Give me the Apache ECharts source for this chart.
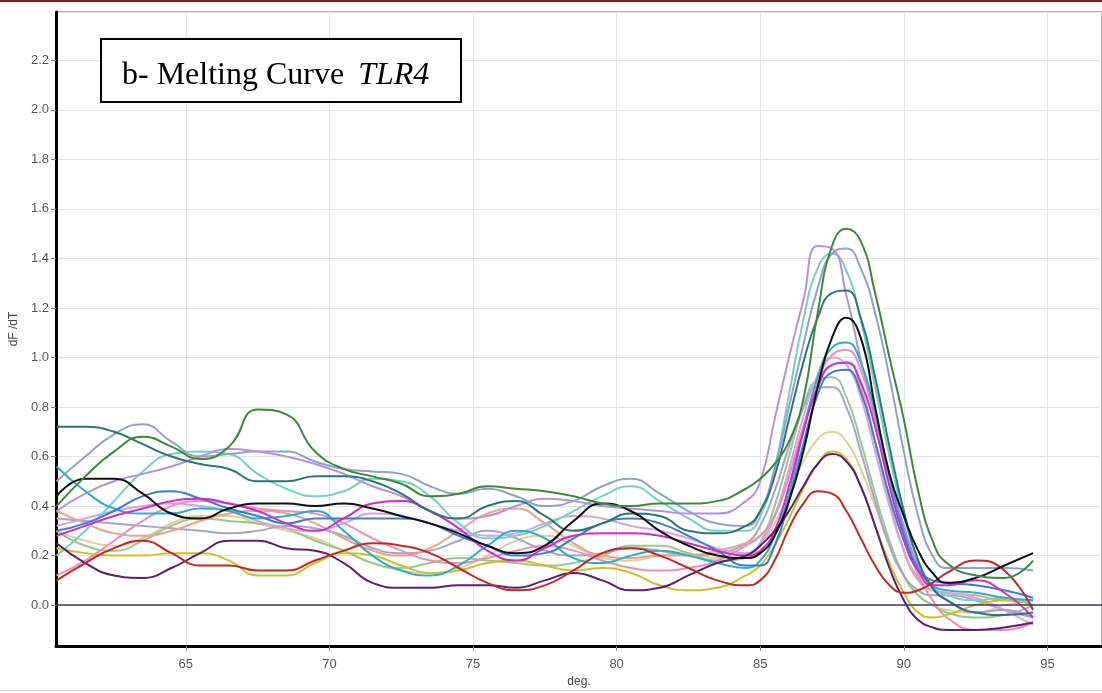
<!DOCTYPE html>
<html><head><meta charset="utf-8">
<script src="https://cdn.jsdelivr.net/npm/echarts@6/dist/echarts.min.js"></script>
<style>html,body{margin:0;padding:0;background:#fff}#c{width:1102px;height:693px}</style>
</head><body><div id="c"></div>
<script>
const temps = [60.5,61.5,62.5,63.5,64.5,65.5,66.5,67.5,68.5,69.5,70.5,71.5,72.5,73.5,74.5,75.5,76.5,77.5,78.5,79.5,80.5,81.5,82.5,83.5,84.5,
  85,85.5,86,86.5,87,87.5,88,88.5,89,89.5,90,90.5,91,91.5,
  92.5,93.5,94.5];

const tan = [0.30,0.26,0.24,0.27,0.33,0.36,0.36,0.33,0.30,0.27,0.22,0.17,0.14,0.13,0.15,0.20,0.26,0.28,0.24,0.19,0.18,0.20,0.21,0.19,0.20,
  0.24,0.33,0.45,0.58,0.67,0.70,0.66,0.55,0.40,0.24,0.12,0.04,0.00,-0.02,
  -0.03,0.00,0.02];
const lightGreen = [0.30,0.24,0.22,0.26,0.32,0.35,0.34,0.33,0.31,0.26,0.22,0.17,0.15,0.17,0.19,0.18,0.17,0.16,0.17,0.20,0.24,0.24,0.21,0.18,0.19,
  0.25,0.40,0.60,0.80,0.91,0.92,0.84,0.66,0.45,0.26,0.12,0.04,0.00,-0.03,
  -0.05,-0.04,0.00];
const grayLavender = [0.35,0.34,0.33,0.32,0.31,0.30,0.29,0.30,0.32,0.31,0.28,0.23,0.21,0.22,0.26,0.30,0.27,0.22,0.20,0.21,0.23,0.22,0.20,0.21,0.25,
  0.32,0.46,0.64,0.80,0.88,0.88,0.80,0.62,0.42,0.24,0.12,0.06,0.04,0.04,
  0.02,-0.02,-0.05];
const salmon = [0.38,0.33,0.29,0.28,0.30,0.34,0.37,0.38,0.37,0.33,0.27,0.22,0.20,0.23,0.30,0.37,0.39,0.33,0.25,0.20,0.19,0.20,0.20,0.22,0.25,
  0.28,0.36,0.52,0.72,0.88,0.97,0.98,0.88,0.66,0.42,0.22,0.10,0.06,0.05,
  0.04,0.02,0.02];
const orchid = [0.32,0.35,0.38,0.40,0.41,0.40,0.38,0.34,0.31,0.30,0.33,0.37,0.36,0.33,0.30,0.28,0.29,0.33,0.36,0.35,0.32,0.30,0.27,0.23,0.21,
  0.25,0.36,0.55,0.76,0.93,1.00,0.97,0.84,0.62,0.40,0.22,0.11,0.06,0.05,
  0.03,-0.02,-0.08];
const pink = [0.12,0.18,0.26,0.34,0.40,0.42,0.41,0.39,0.38,0.37,0.33,0.27,0.22,0.18,0.17,0.19,0.22,0.24,0.22,0.18,0.15,0.14,0.15,0.18,0.24,
  0.28,0.36,0.52,0.72,0.90,1.01,1.03,0.95,0.75,0.50,0.28,0.12,0.02,-0.05,
  -0.10,-0.10,-0.07];
const yellow = [0.23,0.21,0.20,0.20,0.21,0.21,0.18,0.12,0.12,0.17,0.21,0.20,0.16,0.13,0.14,0.17,0.18,0.16,0.14,0.15,0.13,0.08,0.06,0.07,0.12,
  0.16,0.24,0.35,0.47,0.57,0.62,0.59,0.48,0.32,0.17,0.05,-0.03,-0.05,-0.04,
  0.00,0.02,0.00];
const aquamarine = [0.20,0.30,0.42,0.54,0.61,0.62,0.61,0.53,0.47,0.44,0.46,0.51,0.50,0.44,0.33,0.27,0.28,0.32,0.38,0.44,0.48,0.42,0.35,0.30,0.30,
  0.36,0.55,0.85,1.15,1.36,1.42,1.35,1.15,0.88,0.60,0.36,0.18,0.08,0.04,
  0.02,0.03,0.00];
const grayBlue = [0.50,0.60,0.69,0.73,0.66,0.60,0.61,0.62,0.62,0.58,0.55,0.54,0.53,0.48,0.45,0.47,0.44,0.40,0.42,0.48,0.51,0.45,0.38,0.33,0.32,
  0.38,0.55,0.80,1.05,1.28,1.42,1.44,1.36,1.18,0.92,0.62,0.36,0.20,0.15,
  0.15,0.15,0.14];
const lavender = [0.38,0.45,0.50,0.53,0.56,0.60,0.63,0.62,0.60,0.57,0.53,0.48,0.44,0.38,0.35,0.36,0.40,0.43,0.42,0.40,0.39,0.38,0.37,0.37,0.42,
  0.50,0.75,1.00,1.23,1.45,1.44,1.25,0.99,0.76,0.52,0.32,0.16,0.07,0.02,
  -0.03,-0.02,-0.05];
const cyan = [0.56,0.46,0.39,0.37,0.37,0.39,0.38,0.35,0.36,0.38,0.30,0.20,0.14,0.12,0.16,0.24,0.30,0.27,0.19,0.17,0.20,0.22,0.20,0.17,0.15,
  0.18,0.28,0.45,0.70,0.92,1.04,1.06,0.98,0.78,0.52,0.30,0.15,0.08,0.06,
  0.05,0.03,0.02];
const blue = [0.30,0.33,0.38,0.44,0.46,0.43,0.39,0.36,0.33,0.35,0.35,0.35,0.35,0.33,0.28,0.24,0.20,0.21,0.27,0.33,0.35,0.33,0.28,0.22,0.16,
  0.16,0.24,0.42,0.65,0.85,0.94,0.95,0.86,0.66,0.44,0.26,0.14,0.10,0.09,
  0.08,0.06,0.03];
const magenta = [0.28,0.32,0.36,0.39,0.42,0.43,0.41,0.38,0.33,0.30,0.35,0.41,0.42,0.38,0.31,0.22,0.18,0.23,0.28,0.29,0.29,0.28,0.25,0.22,0.20,
  0.22,0.30,0.48,0.70,0.88,0.97,0.98,0.90,0.72,0.48,0.28,0.14,0.08,0.08,
  0.10,0.05,-0.05];
const darkTeal = [0.72,0.72,0.70,0.65,0.60,0.57,0.55,0.50,0.50,0.52,0.52,0.50,0.45,0.38,0.35,0.40,0.42,0.36,0.30,0.33,0.37,0.36,0.30,0.29,0.32,
  0.38,0.52,0.75,0.98,1.16,1.26,1.27,1.16,0.92,0.64,0.38,0.18,0.07,0.02,
  -0.03,-0.04,-0.03];
const darkPurple = [0.25,0.17,0.12,0.11,0.15,0.21,0.26,0.26,0.23,0.22,0.17,0.09,0.07,0.07,0.08,0.08,0.07,0.10,0.13,0.10,0.06,0.07,0.12,0.17,0.20,
  0.24,0.30,0.38,0.48,0.57,0.61,0.58,0.48,0.32,0.15,0.02,-0.06,-0.09,-0.10,
  -0.10,-0.09,-0.07];
const red = [0.10,0.17,0.23,0.26,0.21,0.16,0.16,0.14,0.14,0.18,0.22,0.25,0.24,0.21,0.15,0.09,0.06,0.08,0.14,0.21,0.23,0.20,0.15,0.10,0.08,
  0.10,0.18,0.31,0.41,0.46,0.45,0.38,0.27,0.16,0.08,0.05,0.06,0.09,0.13,
  0.18,0.14,-0.02];
const black = [0.44,0.51,0.51,0.45,0.37,0.35,0.39,0.41,0.41,0.40,0.41,0.39,0.36,0.33,0.29,0.24,0.21,0.24,0.34,0.41,0.38,0.30,0.24,0.20,0.19,
  0.21,0.28,0.42,0.62,0.88,1.08,1.16,1.08,0.80,0.53,0.36,0.22,0.13,0.09,
  0.11,0.16,0.21];
const darkGreen = [0.40,0.52,0.62,0.68,0.64,0.59,0.64,0.79,0.77,0.62,0.55,0.52,0.49,0.44,0.45,0.48,0.47,0.46,0.44,0.41,0.40,0.41,0.41,0.42,0.47,
  0.51,0.57,0.66,0.83,1.18,1.45,1.52,1.47,1.26,1.00,0.75,0.46,0.26,0.17,
  0.12,0.11,0.18];

const seriesNames = ['tan','lightGreen','grayLavender','salmon','orchid','pink','yellow','aquamarine','grayBlue','lavender','cyan','blue','magenta','darkTeal','darkPurple','red','black','darkGreen'];
const seriesValues = [tan,lightGreen,grayLavender,salmon,orchid,pink,yellow,aquamarine,grayBlue,lavender,cyan,blue,magenta,darkTeal,darkPurple,red,black,darkGreen];
const seriesColors = ['#e2cf98','#98c890','#a6a6c6','#eca28e','#d6a2e2','#ee8fb6','#cbc22a','#74d2c0','#8fa3c9','#b593d8','#2cb0c6','#3a7ed0','#d12bd1','#2e7676','#5e1f6e','#c42727','#111111','#3b8a3b'];

const chart = echarts.init(document.getElementById('c'), null, {renderer:'canvas'});
const series = seriesValues.map((vals, i) => ({
  name: seriesNames[i],
  type: 'line',
  data: temps.map((t, j) => [t, vals[j]]),
  smooth: 0.5,
  showSymbol: false,
  lineStyle: {color: seriesColors[i], width: 2},
  itemStyle: {color: seriesColors[i]},
  z: 3
}));
series.push({
  name: 'zero', type: 'line', data: [], silent: true,
  markLine: {symbol: 'none', silent: true, label: {show: false},
    lineStyle: {color: '#3c3c6a', width: 1.5, type: 'solid'},
    data: [{yAxis: 0}]}
});

chart.setOption({
  animation: false,
  backgroundColor: '#fff',
  grid: {left: 56, top: 12, right: 0, bottom: 46, show: true, borderColor: '#666', borderWidth: 1},
  xAxis: {
    type: 'value', min: 60.48, max: 96.9, minInterval: 5, maxInterval: 5, splitNumber: 7,
    name: 'deg.', nameLocation: 'middle', nameGap: 30,
    nameTextStyle: {fontFamily: 'Liberation Sans, Arial, sans-serif', fontSize: 12, color: '#444'},
    axisLine: {show: true, onZero: false, lineStyle: {color: '#000', width: 3}},
    axisTick: {show: true, length: 5, lineStyle: {color: '#888'}},
    axisLabel: {showMinLabel: false, showMaxLabel: false, margin: 12, fontSize: 13, color: '#555', fontFamily: 'Liberation Sans, Arial, sans-serif'},
    splitLine: {show: true, lineStyle: {color: '#e4e4e4', width: 1}}
  },
  yAxis: {
    type: 'value', min: -0.165, max: 2.395, minInterval: 0.2, maxInterval: 0.2, splitNumber: 12,
    name: 'dF /dT', nameLocation: 'middle', nameGap: 26,
    nameTextStyle: {fontFamily: 'Liberation Sans, Arial, sans-serif', fontSize: 12, color: '#444'},
    axisLine: {show: true, onZero: false, lineStyle: {color: '#000', width: 3}},
    axisTick: {show: true, length: 5, lineStyle: {color: '#888'}},
    axisLabel: {showMinLabel: false, showMaxLabel: false, margin: 7, fontSize: 13, color: '#555',
      fontFamily: 'Liberation Sans, Arial, sans-serif', formatter: v => v.toFixed(1)},
    splitLine: {show: true, lineStyle: {color: '#e4e4e4', width: 1}}
  },
  graphic: [
    {type: 'rect', left: 0, top: 0, z: 100, shape: {width: 1102, height: 2}, style: {fill: '#7a1e1e'}},
    {type: 'rect', left: 0, top: 690, z: 100, shape: {width: 1102, height: 1}, style: {fill: '#d0d0d0'}},
    {type: 'rect', left: 100, top: 38, z: 100, shape: {width: 360, height: 63}, style: {fill: '#fff', stroke: '#000', lineWidth: 2}},
    {type: 'text', left: 122, top: 60, z: 101, style: {
      text: '{a|b- Melting Curve }{b|TLR4}',
      rich: {
        a: {fontFamily: 'Liberation Serif, Times New Roman, serif', fontSize: 32, fill: '#000', color: '#000'},
        b: {fontFamily: 'Liberation Serif, Times New Roman, serif', fontSize: 32, fontStyle: 'italic', fill: '#000', color: '#000', padding: [0,0,0,6]}
      }
    }}
  ],
  series: series
});
</script>
</body></html>
